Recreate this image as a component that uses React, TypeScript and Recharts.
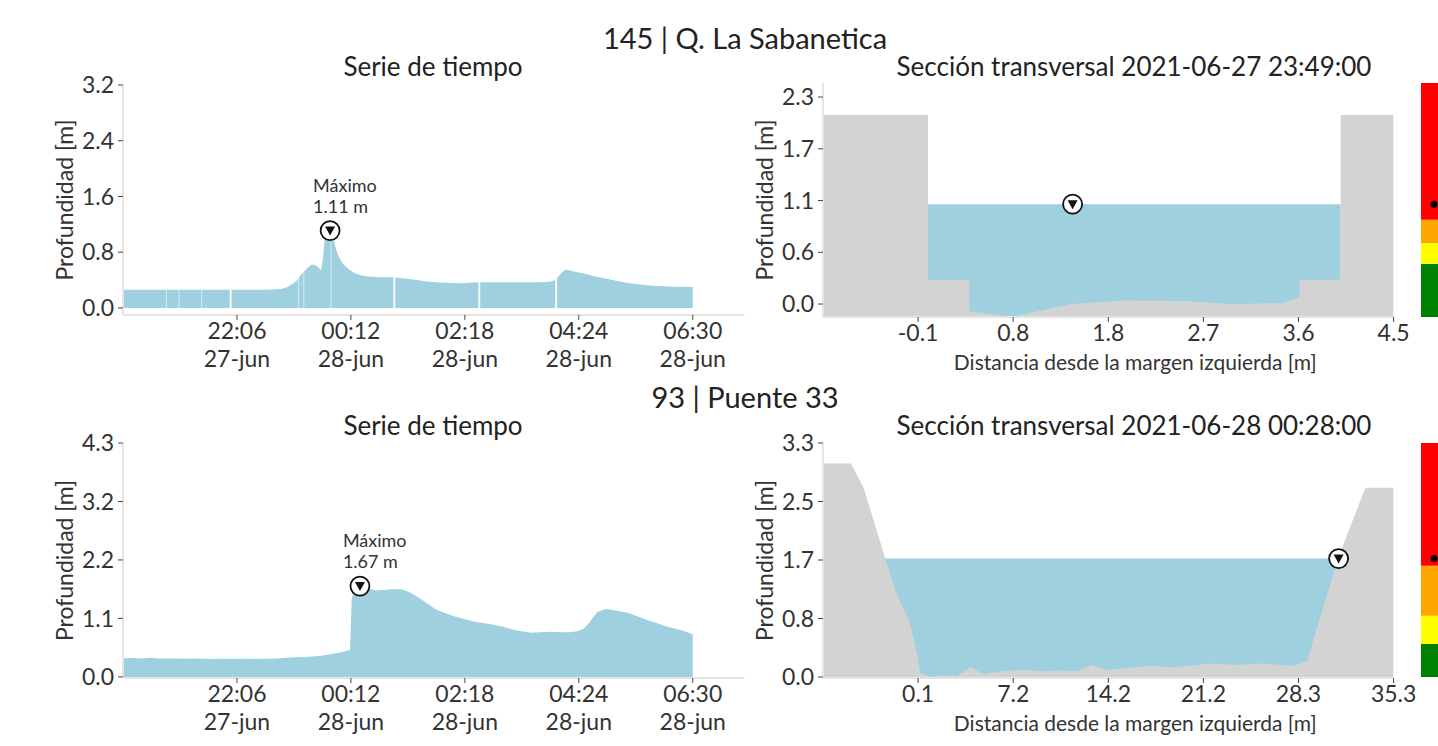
import React from 'react';
import {
  ComposedChart,
  Area,
  Scatter,
  XAxis,
  YAxis,
  ReferenceLine,
  ReferenceArea,
} from 'recharts';

const FONT = 'Lato, "Open Sans", sans-serif';
const INK = '#333333';
const WATER = '#9ed0e0';
const GROUND = '#d3d3d3';
const SPINE = '#e4e4e4';
const TICK = '#444444';

// ── Serie de tiempo (minutos desde 27-jun 20:00) ───────────────────────────────

const timeTicks = [126, 252, 378, 504, 630];
const timeLabels = ['22:06', '00:12', '02:18', '04:24', '06:30'];
const dateLabels = ['27-jun', '28-jun', '28-jun', '28-jun', '28-jun'];

const minutes145 = [0, 20, 40, 60, 80, 100, 120, 140, 160, 175, 182, 187, 192, 197, 203, 208, 212, 216, 219, 221, 223, 226, 229, 231, 233, 236, 240, 244, 250, 256, 263, 270, 285, 299, 305, 314, 325, 336, 350, 372, 393, 410, 430, 450, 462, 472, 478, 482, 486, 490, 500, 511, 520, 531, 545, 560, 585, 610, 630];
const depth145 = [0.26, 0.26, 0.26, 0.26, 0.26, 0.26, 0.26, 0.26, 0.26, 0.27, 0.30, 0.34, 0.39, 0.48, 0.56, 0.62, 0.62, 0.585, 0.54, 0.70, 0.97, 1.05, 1.11, 1.05, 0.98, 0.82, 0.70, 0.62, 0.55, 0.50, 0.47, 0.45, 0.44, 0.44, 0.43, 0.42, 0.40, 0.38, 0.365, 0.355, 0.37, 0.37, 0.37, 0.37, 0.37, 0.375, 0.40, 0.46, 0.52, 0.55, 0.52, 0.49, 0.46, 0.43, 0.39, 0.355, 0.32, 0.305, 0.30];
// huecos sin dato (largos y cortos)
const gapsLong145 = [119, 300, 394, 479];
const gapsShort145 = [48, 62, 87, 194, 200, 230];
const peak145 = { x: 229, y: 1.11 };
const yTicks145 = [0, 0.8, 1.6, 2.4, 3.2];
const yLabels145 = ['0.0', '0.8', '1.6', '2.4', '3.2'];

const minutes93 = [0, 10, 20, 30, 40, 50, 60, 70, 80, 90, 100, 110, 120, 130, 140, 150, 160, 170, 180, 190, 200, 210, 220, 230, 240, 248, 251, 253, 256, 259, 262, 266, 270, 275, 280, 285, 290, 295, 300, 308, 315, 320, 325, 332, 340, 346, 355, 367, 378, 388, 398, 410, 420, 431, 440, 452, 462, 473, 484, 494, 502, 509, 515, 520, 525, 534, 545, 558, 568, 579, 590, 600, 610, 621, 630];
const depth93 = [0.34, 0.35, 0.34, 0.35, 0.34, 0.34, 0.34, 0.335, 0.34, 0.335, 0.33, 0.335, 0.33, 0.335, 0.33, 0.335, 0.335, 0.34, 0.35, 0.36, 0.365, 0.375, 0.39, 0.42, 0.45, 0.48, 0.50, 1.45, 1.60, 1.62, 1.67, 1.62, 1.60, 1.61, 1.59, 1.60, 1.60, 1.61, 1.61, 1.61, 1.57, 1.53, 1.48, 1.40, 1.31, 1.24, 1.18, 1.11, 1.06, 1.02, 0.99, 0.96, 0.92, 0.87, 0.84, 0.81, 0.82, 0.83, 0.82, 0.82, 0.84, 0.88, 0.98, 1.10, 1.20, 1.25, 1.22, 1.18, 1.12, 1.05, 0.99, 0.93, 0.89, 0.84, 0.78];
const peak93 = { x: 262, y: 1.67 };
const yTicks93 = [0, 1.075, 2.15, 3.225, 4.3];
const yLabels93 = ['0.0', '1.1', '2.2', '3.2', '4.3'];

// ── Sección transversal ───────────────────────────────────────────────────────

const secX145 = [-1.0, 0.012, 0.012, 0.41, 0.41, 0.835, 1.39, 1.91, 2.51, 2.94, 3.42, 3.59, 3.59, 3.99, 3.99, 4.5];
const secBed145 = [2.1, 2.1, 0.27, 0.27, -0.08, -0.14, 0.0, 0.04, 0.03, 0.0, 0.01, 0.07, 0.27, 0.27, 2.1, 2.1];
const water145 = { from: 0.012, to: 3.99, level: 1.11, mark: 1.406 };
const xTicks145 = [-0.0833, 0.8333, 1.75, 2.6667, 3.5833, 4.5];
const xLabels145 = ['-0.1', '0.8', '1.8', '2.7', '3.6', '4.5'];
const secYTicks145 = [0, 0.575, 1.15, 1.725, 2.3];
const secYLabels145 = ['0.0', '0.6', '1.1', '1.7', '2.3'];

const secX93 = [-6.92, -4.85, -3.91, -2.31, -1.49, -0.51, 0.04, 0.28, 1.02, 2.01, 3.0, 3.98, 4.97, 6.2, 7.93, 9.41, 10.89, 11.88, 12.99, 14.1, 15.83, 17.53, 19.01, 20.03, 21.97, 23.73, 25.45, 27.92, 28.91, 29.03, 31.2, 33.23, 35.32];
const secBed93 = [3.01, 3.01, 2.67, 1.67, 1.18, 0.78, 0.34, 0.06, 0.0, 0.03, 0.01, 0.14, 0.04, 0.08, 0.10, 0.08, 0.09, 0.08, 0.17, 0.10, 0.135, 0.16, 0.135, 0.16, 0.19, 0.17, 0.19, 0.16, 0.22, 0.30, 1.67, 2.67, 2.67];
const water93 = { from: -2.31, to: 31.2, level: 1.67, mark: 31.25 };
const xTicks93 = [0.12, 7.16, 14.2, 21.24, 28.28, 35.32];
const xLabels93 = ['0.1', '7.2', '14.2', '21.2', '28.3', '35.3'];
const secYTicks93 = [0, 0.825, 1.65, 2.475, 3.3];
const secYLabels93 = ['0.0', '0.8', '1.7', '2.5', '3.3'];

// ── Semáforo ──────────────────────────────────────────────────────────────────

const alertColors = ['#008000', '#ffff00', '#ffa500', '#ff0000'];
const alertEdges145 = [-0.144, 0.448, 0.678, 0.937, 2.456];
const alertEdges93 = [0, 0.466, 0.865, 1.57, 3.3];

// ── Layout helpers ────────────────────────────────────────────────────────────

const YW = 120;
const MT = 14;
const MR = 40;
const XH = 80;

type Box = { x: number; y: number; w: number; h: number };

function frame(box: Box) {
  return {
    style: { position: 'absolute' as const, left: box.x - YW, top: box.y - MT },
    width: YW + box.w + MR,
    height: MT + box.h + XH,
  };
}

const tickFont = { fill: INK, fontSize: 23, fontFamily: FONT };

function Title({ x, y, size, children }: any) {
  return (
    <div style={{
      position: 'absolute', left: x, top: y, transform: 'translate(-50%, -50%)',
      fontSize: size, lineHeight: 1, whiteSpace: 'nowrap', color: '#222', fontFamily: FONT,
    }}>
      {children}
    </div>
  );
}

function TimeTick({ x, y, payload }: any) {
  const i = timeTicks.indexOf(payload.value);
  return (
    <text x={x} y={y} textAnchor="middle" fill={INK} fontSize={23} fontFamily={FONT}>
      <tspan x={x} dy={17.5}>{timeLabels[i]}</tspan>
      <tspan x={x} dy={28}>{dateLabels[i]}</tspan>
    </text>
  );
}

function YLabel({ viewBox }: any) {
  const { x, y, width, height } = viewBox;
  const cx = x + width - 59;
  const cy = y + height / 2;
  return (
    <text transform={`translate(${cx},${cy}) rotate(-90)`} textAnchor="middle"
      dominantBaseline="central" fill={INK} fontSize={23} fontFamily={FONT}>
      Profundidad [m]
    </text>
  );
}

function XLabel({ viewBox }: any) {
  const { x, y, width } = viewBox;
  return (
    <text x={x + width / 2 + 27} y={y + 53} textAnchor="middle" fill={INK} fontSize={21} fontFamily={FONT}>
      Distancia desde la margen izquierda [m]
    </text>
  );
}

function Marker({ cx, cy, note }: any) {
  if (cx == null || cy == null) return null;
  return (
    <g>
      {note && (
        <text x={cx - 17} y={cy - 39} fill={INK} fontSize={18} fontFamily={FONT}>
          <tspan x={cx - 17}>Máximo</tspan>
          <tspan x={cx - 17} dy={21}>{note}</tspan>
        </text>
      )}
      <circle cx={cx} cy={cy} r={9.5} fill="#fff" stroke="#111" strokeWidth={1.8} />
      <path d={`M${cx - 5},${cy - 4} L${cx + 5},${cy - 4} L${cx},${cy + 5} Z`} fill="#111" />
    </g>
  );
}

// ── Serie de tiempo ───────────────────────────────────────────────────────────

function TimeSeries({ box, minutes, depth, yDomain, yTicks, yLabels, peak, gapsLong = [], gapsShort = [] }: any) {
  const data = minutes.map((m: number, i: number) => ({ x: m, d: depth[i] }));
  const f = frame(box);
  return (
    <div style={f.style}>
      <ComposedChart width={f.width} height={f.height} data={data}
        margin={{ top: MT, right: MR, bottom: 0, left: 0 }}>
        <XAxis dataKey="x" type="number" domain={[0, 687]} ticks={timeTicks} interval={0}
          allowDataOverflow height={XH} tick={<TimeTick />} tickSize={5} tickMargin={2}
          axisLine={{ stroke: SPINE, strokeWidth: 2 }} tickLine={{ stroke: TICK }} />
        <YAxis type="number" domain={yDomain} ticks={yTicks} interval={0} allowDataOverflow
          width={YW} tick={tickFont} tickSize={5} tickMargin={4}
          tickFormatter={(v: number) => yLabels[yTicks.indexOf(v)]}
          axisLine={{ stroke: SPINE, strokeWidth: 2 }} tickLine={{ stroke: TICK }}
          label={<YLabel />} />
        <Area type="linear" dataKey="d" fill={WATER} fillOpacity={1} stroke="none"
          dot={false} activeDot={false} isAnimationActive={false} />
        {gapsLong.map((g: number) => (
          <ReferenceLine key={`l${g}`} segment={[{ x: g, y: 0 }, { x: g, y: 1.3 }]}
            stroke="#ffffff" strokeWidth={1.8} />
        ))}
        {gapsShort.map((g: number) => (
          <ReferenceLine key={`s${g}`} segment={[{ x: g, y: 0 }, { x: g, y: 1.3 }]}
            stroke="#ffffff" strokeWidth={1} strokeOpacity={0.6} />
        ))}
        <Scatter data={[peak]} dataKey="y" isAnimationActive={false}
          shape={(p: any) => <Marker {...p} note={`${peak.y.toFixed(2)} m`} />} />
      </ComposedChart>
    </div>
  );
}

// ── Sección transversal ───────────────────────────────────────────────────────

function Section({ box, xs, bed, water, xDomain, yDomain, xTicks, xLabels, yTicks, yLabels }: any) {
  const data = xs.map((x: number, i: number) => ({
    x,
    bed: bed[i],
    water: x >= water.from && x <= water.to ? water.level : null,
  }));
  const f = frame(box);
  return (
    <div style={f.style}>
      <ComposedChart width={f.width} height={f.height} data={data}
        margin={{ top: MT, right: MR, bottom: 0, left: 0 }}>
        <XAxis dataKey="x" type="number" domain={xDomain} ticks={xTicks} interval={0}
          allowDataOverflow height={XH} tick={tickFont} tickSize={5} tickMargin={3}
          tickFormatter={(v: number) => xLabels[xTicks.indexOf(v)]}
          axisLine={{ stroke: SPINE, strokeWidth: 2 }} tickLine={{ stroke: TICK }}
          label={<XLabel />} />
        <YAxis type="number" domain={yDomain} ticks={yTicks} interval={0} allowDataOverflow
          width={YW} tick={tickFont} tickSize={5} tickMargin={4}
          tickFormatter={(v: number) => yLabels[yTicks.indexOf(v)]}
          axisLine={{ stroke: SPINE, strokeWidth: 2 }} tickLine={{ stroke: TICK }}
          label={<YLabel />} />
        <Area type="linear" dataKey="water" baseValue="dataMin" fill={WATER} fillOpacity={1}
          stroke="none" dot={false} activeDot={false} isAnimationActive={false} />
        <Area type="linear" dataKey="bed" baseValue="dataMin" fill={GROUND} fillOpacity={1}
          stroke="none" dot={false} activeDot={false} isAnimationActive={false} />
        <Scatter data={[{ x: water.mark, y: water.level }]} dataKey="y" isAnimationActive={false}
          shape={(p: any) => <Marker {...p} />} />
      </ComposedChart>
    </div>
  );
}

// ── Semáforo de alerta ────────────────────────────────────────────────────────

function AlertBar({ box, edges, level }: any) {
  const dot = [{ x: 0.5, y: level }];
  return (
    <div style={{ position: 'absolute', left: box.x, top: box.y }}>
      <ComposedChart width={box.w} height={box.h} data={dot}
        margin={{ top: 0, right: 0, bottom: 0, left: 0 }}>
        <XAxis dataKey="x" type="number" domain={[0, 1]} hide />
        <YAxis type="number" domain={[edges[0], edges[edges.length - 1]]} hide allowDataOverflow />
        {alertColors.map((c, i) => (
          <ReferenceArea key={c} x1={0} x2={1} y1={edges[i]} y2={edges[i + 1]}
            fill={c} fillOpacity={1} stroke="none" />
        ))}
        <Scatter dataKey="y" fill="#000" isAnimationActive={false}
          shape={(p: any) => <circle cx={p.cx} cy={p.cy} r={3.5} fill="#000" />} />
      </ComposedChart>
    </div>
  );
}

export default function App() {
  return (
    <div style={{
      position: 'absolute', left: 0, top: 0, width: 1438, height: 746,
      overflow: 'hidden', background: '#fff', fontFamily: FONT,
    }}>
      <Title x={745} y={37} size={29}>145 | Q. La Sabanetica</Title>
      <Title x={433} y={66} size={26}>Serie de tiempo</Title>
      <Title x={1134} y={66} size={26}>Sección transversal 2021-06-27 23:49:00</Title>
      <Title x={745} y={396} size={29}>93 | Puente 33</Title>
      <Title x={433} y={425} size={26}>Serie de tiempo</Title>
      <Title x={1134} y={425} size={26}>Sección transversal 2021-06-28 00:28:00</Title>

      <TimeSeries box={{ x: 122.7, y: 84.6, w: 621.3, h: 229.9 }} minutes={minutes145} depth={depth145}
        yDomain={[-0.1, 3.2]} yTicks={yTicks145} yLabels={yLabels145} peak={peak145}
        gapsLong={gapsLong145} gapsShort={gapsShort145} />
      <Section box={{ x: 822.7, y: 83.3, w: 570.6, h: 234 }} xs={secX145} bed={secBed145} water={water145}
        xDomain={[-1, 4.5]} yDomain={[-0.144, 2.456]} xTicks={xTicks145} xLabels={xLabels145}
        yTicks={secYTicks145} yLabels={secYLabels145} />
      <AlertBar box={{ x: 1421, y: 83.3, w: 26, h: 234 }} edges={alertEdges145} level={water145.level} />

      <TimeSeries box={{ x: 122.7, y: 443.3, w: 621.3, h: 235 }} minutes={minutes93} depth={depth93}
        yDomain={[-0.02, 4.3]} yTicks={yTicks93} yLabels={yLabels93} peak={peak93} />
      <Section box={{ x: 822.7, y: 443.3, w: 570.6, h: 235 }} xs={secX93} bed={secBed93} water={water93}
        xDomain={[-6.92, 35.32]} yDomain={[-0.014, 3.3]} xTicks={xTicks93} xLabels={xLabels93}
        yTicks={secYTicks93} yLabels={secYLabels93} />
      <AlertBar box={{ x: 1421, y: 443.3, w: 26, h: 234 }} edges={alertEdges93} level={water93.level} />
    </div>
  );
}
